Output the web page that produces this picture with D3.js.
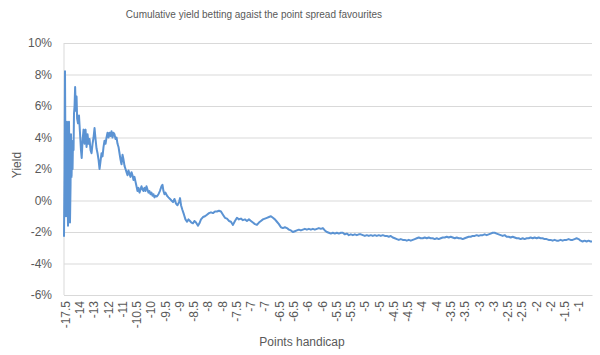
<!DOCTYPE html>
<html><head><meta charset="utf-8">
<script src="https://cdn.jsdelivr.net/npm/d3@7"></script>
<style>body{margin:0;background:#fff}svg{font-family:"Liberation Sans",Arial,sans-serif}</style>
</head><body><svg id="c" width="600" height="355"></svg>
<script>
const title = "Cumulative yield betting agaist the point spread favourites";
const xTitle = "Points handicap";
const yTitle = "Yield";
const yTicks = [-6,-4,-2,0,2,4,6,8,10];
const xTickLabels = ["-17.5","-14","-13","-12","-11","-10.5","-10","-9.5","-9","-8.5","-8","-8","-7.5","-7","-7","-6.5","-6.5","-6","-6","-5.5","-5.5","-5","-5","-4.5","-4.5","-4","-4","-3.5","-3.5","-3","-3","-2.5","-2.5","-2","-2","-1.5","-1"];
const betsPerLabel = 100;
const totalBets = 3700;
const betIndex = [0,4,7,10,14,18,21,25,28,32,35,39,42,46,49,53,56,60,63,67,70,74,78,83,88,92,98,105,112,119,124,130,137,144,151,158,165,172,179,186,193,200,207,214,221,228,235,242,249,256,263,270,277,284,291,298,305,312,319,326,333,340,347,354,361,368,375,382,389,396,403,410,417,424,431,438,445,452,459,466,473,480,487,494,501,508,515,522,529,536,543,550,557,564,571,578,585,592,599,606,613,620,627,634,641,651,662,672,683,690,697,704,711,722,732,743,753,764,774,785,795,806,813,820,830,841,851,862,872,883,893,904,914,925,939,949,960,974,988,1002,1016,1030,1044,1058,1072,1086,1100,1114,1128,1142,1156,1170,1184,1198,1212,1226,1240,1254,1268,1282,1296,1310,1324,1338,1352,1366,1380,1394,1408,1422,1436,1450,1464,1478,1492,1506,1520,1534,1548,1562,1576,1590,1604,1618,1632,1646,1660,1674,1688,1702,1716,1730,1744,1758,1772,1786,1800,1814,1828,1842,1856,1870,1884,1898,1912,1926,1940,1954,1968,1982,1996,2010,2024,2038,2052,2066,2080,2094,2108,2122,2136,2150,2164,2178,2192,2206,2220,2234,2248,2262,2276,2290,2304,2318,2332,2346,2360,2374,2388,2402,2416,2430,2444,2458,2472,2486,2500,2514,2528,2542,2556,2570,2584,2598,2612,2626,2640,2654,2668,2682,2696,2710,2724,2738,2752,2766,2780,2794,2808,2822,2836,2850,2864,2878,2892,2906,2920,2934,2948,2962,2976,2990,3004,3018,3032,3046,3060,3074,3088,3102,3116,3130,3144,3158,3172,3186,3200,3214,3228,3242,3256,3270,3284,3298,3312,3326,3340,3354,3368,3382,3396,3410,3424,3438,3452,3466,3480,3494,3508,3522,3536,3550,3564,3578,3592,3606,3620,3634,3648,3662,3676,3690,3700];
const yieldPct = [-2.3,2.0,8.2,3.0,-1.0,2.5,5.0,0.5,-1.6,1.5,5.0,2.0,-1.4,1.0,4.2,1.5,2.8,2.0,3.8,3.2,5.5,6.0,7.2,5.7,6.6,5.2,4.9,5.4,4.3,3.2,2.7,3.8,4.5,3.6,4.5,3.4,4.2,3.6,3.9,3.2,3.0,3.6,4.0,4.6,3.9,3.3,3.0,2.6,2.0,2.5,3.0,2.8,3.4,3.8,3.6,4.0,4.3,4.0,4.3,4.1,4.4,4.0,4.3,4.2,3.9,4.0,3.6,3.4,3.0,2.6,2.3,2.9,2.6,2.2,2.0,1.8,1.6,1.9,1.7,1.5,1.8,1.6,1.3,1.5,1.2,0.9,0.6,0.8,0.5,0.7,0.9,0.7,0.6,0.8,0.6,0.9,0.7,0.5,0.6,0.4,0.5,0.3,0.4,0.2,0.3,0.25,0.4,0.6,0.9,1.0,0.6,0.4,0.5,0.3,0.2,0.1,0.0,-0.1,0.1,-0.2,-0.3,-0.1,0.15,-0.3,-0.6,-0.9,-1.2,-1.35,-1.2,-1.3,-1.4,-1.45,-1.3,-1.4,-1.6,-1.45,-1.2,-1.05,-1.0,-0.9,-0.8,-0.75,-0.8,-0.7,-0.7,-0.65,-0.7,-0.9,-1.1,-1.15,-1.3,-1.35,-1.55,-1.3,-1.1,-1.2,-1.15,-1.25,-1.2,-1.3,-1.2,-1.3,-1.4,-1.5,-1.55,-1.4,-1.3,-1.2,-1.15,-1.1,-1.05,-1.0,-1.1,-1.2,-1.35,-1.5,-1.7,-1.75,-1.7,-1.75,-1.85,-1.9,-2.0,-1.95,-1.9,-1.85,-1.9,-1.85,-1.8,-1.85,-1.8,-1.85,-1.8,-1.85,-1.8,-1.75,-1.8,-1.75,-1.9,-2.0,-2.05,-2.1,-2.05,-2.1,-2.05,-2.1,-2.05,-2.05,-2.15,-2.1,-2.2,-2.15,-2.2,-2.15,-2.2,-2.15,-2.15,-2.2,-2.25,-2.2,-2.25,-2.2,-2.25,-2.2,-2.25,-2.2,-2.25,-2.2,-2.25,-2.25,-2.3,-2.25,-2.35,-2.4,-2.45,-2.5,-2.45,-2.5,-2.5,-2.55,-2.5,-2.55,-2.5,-2.45,-2.4,-2.35,-2.4,-2.4,-2.35,-2.4,-2.35,-2.4,-2.4,-2.45,-2.4,-2.45,-2.4,-2.35,-2.35,-2.3,-2.35,-2.3,-2.35,-2.4,-2.35,-2.4,-2.4,-2.45,-2.4,-2.35,-2.3,-2.3,-2.25,-2.25,-2.2,-2.25,-2.2,-2.2,-2.15,-2.2,-2.15,-2.1,-2.05,-2.05,-2.1,-2.15,-2.2,-2.25,-2.2,-2.3,-2.3,-2.35,-2.3,-2.35,-2.4,-2.4,-2.45,-2.4,-2.45,-2.4,-2.4,-2.35,-2.4,-2.35,-2.4,-2.35,-2.4,-2.4,-2.45,-2.45,-2.5,-2.5,-2.55,-2.5,-2.55,-2.55,-2.5,-2.55,-2.5,-2.5,-2.45,-2.5,-2.5,-2.45,-2.4,-2.45,-2.55,-2.6,-2.55,-2.6,-2.55,-2.6,-2.6];

const svg = d3.select("#c");
const M = {left:64, right:592, top:43, bottom:295};
const x = d3.scaleLinear().domain([0,totalBets]).range([M.left,M.right]);
const y = d3.scaleLinear().domain([d3.min(yTicks), d3.max(yTicks)]).range([M.bottom,M.top]);
const textCol = "#595959", gridCol = "#d9d9d9";

// y axis with gridlines
const gy = svg.append("g").attr("transform",`translate(${M.left},0)`)
  .call(d3.axisLeft(y).tickValues(yTicks).tickSize(-(M.right-M.left)).tickPadding(12).tickFormat(d=>d+"%"));
gy.select(".domain").remove();
gy.selectAll(".tick line").attr("stroke",gridCol).attr("stroke-width",1);
gy.selectAll(".tick text").attr("fill",textCol).style("font-size","12px").style("font-family","Liberation Sans, Arial, sans-serif");
svg.append("line").attr("x1",M.left).attr("x2",M.left).attr("y1",M.top).attr("y2",M.bottom).attr("stroke",gridCol);

// x axis
const tickVals = xTickLabels.map((_,i)=>i*betsPerLabel);
const gx = svg.append("g").attr("transform",`translate(0,${M.bottom})`)
  .call(d3.axisBottom(x).tickValues(tickVals).tickSize(0).tickFormat((d,i)=>xTickLabels[i]));
gx.select(".domain").attr("stroke",gridCol);
gx.selectAll(".tick text").attr("fill",textCol).style("font-size","12px").style("font-family","Liberation Sans, Arial, sans-serif")
  .attr("text-anchor","end").attr("transform","rotate(-90)").attr("x",-6).attr("y",1).attr("dy","0.35em");

// line
const pts = yieldPct.map((v,i)=>[betIndex[i],v]);
svg.append("path").datum(pts)
  .attr("fill","none").attr("stroke","#5b93d3").attr("stroke-width",2).attr("stroke-linejoin","round")
  .attr("d", d3.line().x(d=>x(d[0])).y(d=>y(d[1])));

// titles
svg.append("text").attr("x",254).attr("y",18).attr("text-anchor","middle").attr("fill",textCol)
  .style("font-size","10px").text(title);
svg.append("text").attr("x",302).attr("y",346).attr("text-anchor","middle").attr("fill",textCol)
  .style("font-size","12px").text(xTitle);
svg.append("text").attr("transform","translate(17,165) rotate(-90)").attr("text-anchor","middle").attr("dy","0.35em")
  .attr("fill",textCol).style("font-size","12px").text(yTitle);
</script></body></html>
